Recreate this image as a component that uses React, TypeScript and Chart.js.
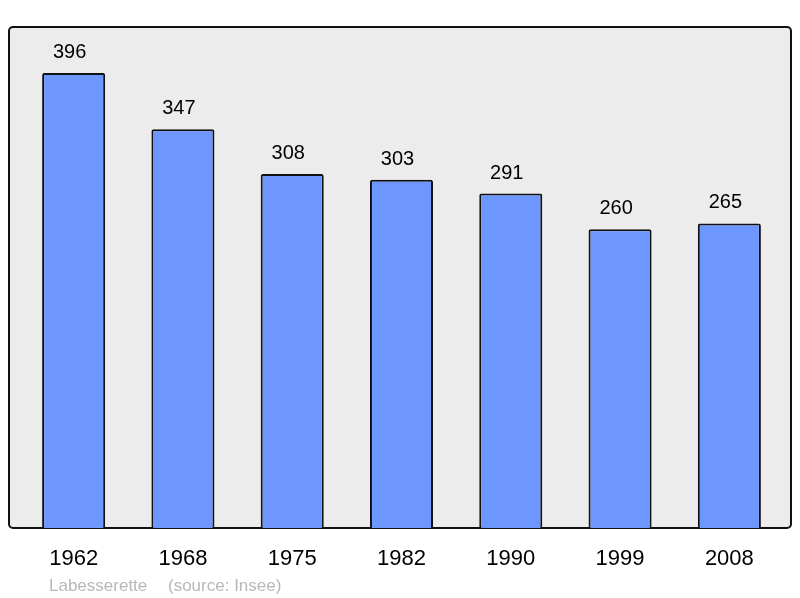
import React, { useEffect, useRef } from "react";
import { Chart, registerables } from "chart.js";

Chart.register(...registerables);

const years = ["1962", "1968", "1975", "1982", "1990", "1999", "2008"];
const population = [396, 347, 308, 303, 291, 260, 265];
const footerName = "Labesserette";
const footerSource = "(source: Insee)";

const FONT = '"Liberation Sans", Arial, sans-serif';

const framePlugin = {
  id: "frame",
  beforeDraw(chart: any) {
    const { ctx, chartArea } = chart;
    const x0 = 9, x1 = 791;
    const y0 = chartArea.top, y1 = chartArea.bottom;
    ctx.save();
    ctx.beginPath();
    (ctx as any).roundRect(x0, y0, x1 - x0, y1 - y0, 4);
    ctx.fillStyle = "#ececec";
    ctx.fill();
    ctx.lineWidth = 2;
    ctx.strokeStyle = "#111111";
    ctx.stroke();
    ctx.restore();
  },
  afterDraw(chart: any) {
    const { ctx, chartArea } = chart;
    const xs = chart.scales.x;
    const ys = chart.scales.y;
    ctx.save();
    ctx.fillStyle = "#000000";
    ctx.textAlign = "center";
    ctx.textBaseline = "alphabetic";
    ctx.font = `20px ${FONT}`;
    population.forEach((v, i) => {
      const x = xs.getPixelForValue(i);
      const y = ys.getPixelForValue(v);
      ctx.fillText(String(v), x - 4, y - 15);
    });
    ctx.font = `22px ${FONT}`;
    years.forEach((yr, i) => {
      const x = xs.getPixelForValue(i);
      ctx.fillText(yr, x, chartArea.bottom + 37);
    });
    ctx.textAlign = "left";
    ctx.fillStyle = "#b8b8b8";
    ctx.font = `17px ${FONT}`;
    ctx.fillText(footerName, 49, 591);
    ctx.fillText(footerSource, 168, 591);
    ctx.restore();
  },
};

export default function App() {
  const ref = useRef<HTMLCanvasElement | null>(null);
  useEffect(() => {
    document.body.style.margin = "0";
    const chart = new Chart(ref.current as HTMLCanvasElement, {
      type: "bar",
      data: {
        labels: years,
        datasets: [
          {
            data: population,
            backgroundColor: "#6e96ff",
            borderColor: "#111111",
            borderWidth: 2,
            borderRadius: 2,
            borderSkipped: "bottom",
            barPercentage: 0.577,
            categoryPercentage: 1,
          },
        ],
      },
      options: {
        responsive: false,
        animation: false,
        layout: { padding: { left: 19, right: 16, top: 27, bottom: 70 } },
        plugins: { legend: { display: false }, tooltip: { enabled: false } },
        scales: {
          x: { display: false, offset: true },
          y: { display: false, min: 0, max: 436 },
        },
      },
      plugins: [framePlugin],
    });
    return () => chart.destroy();
  }, []);
  return <canvas ref={ref} width={800} height={598} style={{ display: "block" }} />;
}
